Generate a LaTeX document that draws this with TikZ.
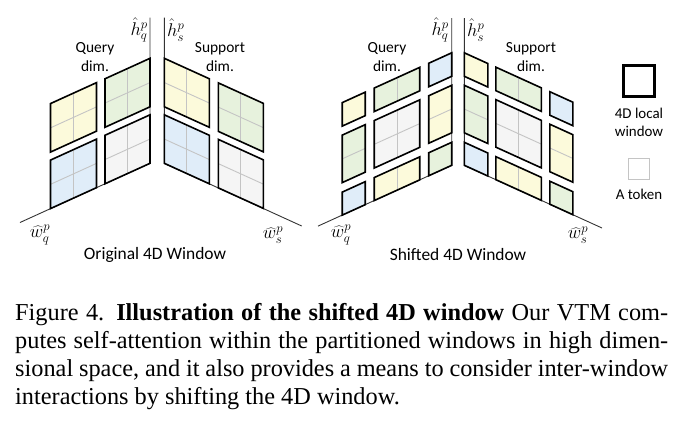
\RequirePackage{fix-cm}
\documentclass[tikz,border=0pt]{standalone}
\usepackage{fontspec}
\setmainfont{Liberation Serif}
\newfontfamily\calibri{Carlito}
\usepackage{tikz}
\usetikzlibrary{positioning}
\definecolor{cYel}{HTML}{FCFADB}
\definecolor{cGrn}{HTML}{E7F2DD}
\definecolor{cBlu}{HTML}{E0EDF9}
\definecolor{cWht}{HTML}{F5F5F5}
\definecolor{cTok}{HTML}{C4C4C4}

% one window in plane coords: u0,u1,v0,v1,fill,split (0 none, 1 |, 2 -, 3 both)
\newcommand{\win}[6]{%
  \fill[#5] (#1,#3) -- (#2,#3) -- (#2,#4) -- (#1,#4) -- cycle;
  \ifodd#6\relax \draw[tok] ({(#1+#2)/2},#3) -- ({(#1+#2)/2},#4);\fi
  \ifnum#6>1\relax \draw[tok] (#1,{(#3+#4)/2}) -- (#2,{(#3+#4)/2});\fi
  \draw[wbox] (#1,#3) -- (#2,#3) -- (#2,#4) -- (#1,#4) -- cycle;}

\begin{document}
\begin{tikzpicture}[x=1bp, y=-1bp,
  wbox/.style={draw=black, line width=1.6bp},
  tok/.style={draw=cTok, line width=0.9bp},
  axis/.style={draw=black!80, line width=0.9bp},
  dimlbl/.style={font=\calibri\fontsize{15.5}{19.5}\selectfont, align=center, inner sep=0pt},
  lgtxt/.style={font=\calibri\fontsize{15}{18}\selectfont, align=center, inner sep=0pt},
  ttl/.style={font=\calibri\fontsize{17.5}{21}\selectfont, inner sep=0pt},
  axlbl/.style={font=\fontsize{18.5}{22}\selectfont, inner sep=0pt},
  captxt/.style={font=\fontsize{24.4}{28}\selectfont, text width=653bp, align=justify, inner sep=0pt}
]
\useasboundingbox (0,0) rectangle (684,420);

% original window
\coordinate (oq) at (150,163.3);
\coordinate (hq) at (150,17.5);
\coordinate (wq) at (20,222.5);
\coordinate (os) at (164.3,163.3);
\coordinate (hs) at (164.3,17.5);
\coordinate (ws) at (301.7,226);
\draw[axis] (hq) -- (oq) -- (wq);
\draw[axis] (hs) -- (os) -- (ws);
\begin{scope}[shift={(oq)}, x={(-1bp,-0.455bp)}, y={(0bp,1bp)}]
  \win{0}{45}{0}{48.5}{cWht}{3}
  \win{0}{45}{56.5}{105}{cGrn}{3}
  \win{53.5}{99.5}{0}{48.5}{cBlu}{3}
  \win{53.5}{99.5}{56.5}{105}{cYel}{3}
\end{scope}
\begin{scope}[shift={(os)}, x={(1bp,-0.455bp)}, y={(0bp,1bp)}]
  \win{0}{45}{0}{48.5}{cBlu}{3}
  \win{0}{45}{56.5}{105}{cYel}{3}
  \win{54}{99}{0}{48.5}{cWht}{3}
  \win{54}{99}{56.5}{105}{cGrn}{3}
\end{scope}
\node[axlbl, anchor=east] (lhq) at (148,30) {$\hat{h}^p_q$};
\node[axlbl, anchor=west] (lhs) at (167,30) {$\hat{h}^p_s$};
\node[axlbl] (lwq) at (40,235) {$\widehat{w}^p_q$};
\node[axlbl] (lws) at (273,235) {$\widehat{w}^p_s$};
\node[dimlbl] (qdim) at (95,57) {Query\\dim.};
\node[dimlbl] (sdim) at (220,57) {Support\\dim.};
\node[ttl] (orig) at (155,255) {Original 4D Window};

% shifted window
\coordinate (oq2) at (451.7,165.3);
\coordinate (hq2) at (451.7,18);
\coordinate (wq2) at (318,226.1);
\coordinate (os2) at (464.3,165.3);
\coordinate (hs2) at (464.3,18);
\coordinate (ws2) at (602,228);
\draw[axis] (hq2) -- (oq2) -- (wq2);
\draw[axis] (hs2) -- (os2) -- (ws2);
\begin{scope}[shift={(oq2)}, x={(-1bp,-0.455bp)}, y={(0bp,1bp)}]
  \win{0}{23}{0}{23}{cGrn}{0}
  \win{0}{23}{32.5}{80}{cYel}{2}
  \win{0}{23}{89}{112.5}{cBlu}{0}
  \win{32}{77.5}{0}{23}{cYel}{1}
  \win{32}{77.5}{32.5}{80}{cWht}{3}
  \win{32}{77.5}{89}{112.5}{cGrn}{1}
  \win{86.5}{109.5}{0}{23}{cBlu}{0}
  \win{86.5}{109.5}{32.5}{80}{cGrn}{2}
  \win{86.5}{109.5}{89}{112.5}{cYel}{0}
\end{scope}
\begin{scope}[shift={(os2)}, x={(1bp,-0.455bp)}, y={(0bp,1bp)}]
  \win{0}{23.5}{0}{23}{cBlu}{0}
  \win{0}{23.5}{32.5}{80}{cGrn}{2}
  \win{0}{23.5}{89}{112.5}{cYel}{0}
  \win{31.5}{77}{0}{23}{cYel}{1}
  \win{31.5}{77}{32.5}{80}{cWht}{3}
  \win{31.5}{77}{89}{112.5}{cGrn}{1}
  \win{85.5}{108.5}{0}{23}{cGrn}{0}
  \win{85.5}{108.5}{32.5}{80}{cYel}{2}
  \win{85.5}{108.5}{89}{112.5}{cBlu}{0}
\end{scope}
\node[axlbl, anchor=east] (lhq2) at (449,30) {$\hat{h}^p_q$};
\node[axlbl, anchor=west] (lhs2) at (467,30) {$\hat{h}^p_s$};
\node[axlbl] (lwq2) at (341,235) {$\widehat{w}^p_q$};
\node[axlbl] (lws2) at (578,235) {$\widehat{w}^p_s$};
\node[dimlbl] (qdim2) at (387,57) {Query\\dim.};
\node[dimlbl] (sdim2) at (531,57) {Support\\dim.};
\node[ttl] (shift) at (458,255) {Shifted 4D Window};

% legend
\node[draw=black, line width=2.8bp, minimum size=31bp, inner sep=0pt] (lgwin) at (639,81) {};
\node[lgtxt, below=10bp of lgwin] (lgwinlbl) {4D local\\window};
\node[draw=cTok, line width=1.3bp, minimum size=21bp, inner sep=0pt] (lgtok) at (639,169) {};
\node[lgtxt, below=9bp of lgtok] (lgtoklbl) {A token};

\node[captxt, anchor=north west] (caption) at (15,303) {Figure 4. \textbf{Illustration of the shifted 4D window} Our VTM com-\linebreak putes self-attention within the partitioned windows in high dimen-\linebreak sional space, and it also provides a means to consider inter-window\linebreak interactions by shifting the 4D window.};
\end{tikzpicture}
\end{document}
